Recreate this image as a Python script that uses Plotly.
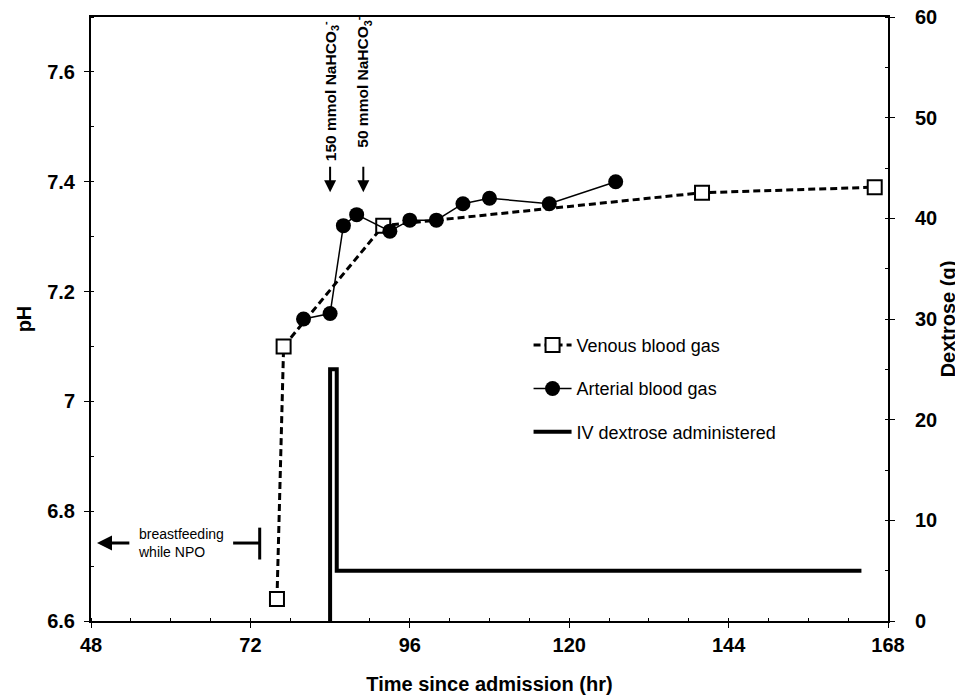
import plotly.graph_objects as go

# ---- data ----
venous_hr = [76, 77, 92, 140, 166]
venous_ph = [6.64, 7.10, 7.32, 7.38, 7.39]

arterial_hr = [80, 84, 86, 88, 93, 96, 100, 104, 108, 117, 127]
arterial_ph = [7.15, 7.16, 7.32, 7.34, 7.31, 7.33, 7.33, 7.36, 7.37, 7.36, 7.40]

dextrose_hr = [84, 84, 85, 85, 164]
dextrose_g = [0, 25, 25, 5, 5]

bicarb_hr = [84, 89]
bicarb_label_ph = [7.434, 7.458]
bicarb_labels = ["150 mmol NaHCO<sub>3</sub><sup>-</sup>", "50 mmol NaHCO<sub>3</sub><sup>-</sup>"]

x_ticks = [48, 72, 96, 120, 144, 168]
ph_ticks = [6.6, 6.8, 7.0, 7.2, 7.4, 7.6]
ph_ticktext = ["6.6", "6.8", "7", "7.2", "7.4", "7.6"]
dex_ticks = [0, 10, 20, 30, 40, 50, 60]

FONT = "Liberation Sans, Arial, sans-serif"

fig = go.Figure()

fig.add_trace(go.Scatter(
    x=venous_hr, y=venous_ph, name="Venous blood gas", mode="lines+markers",
    line=dict(color="black", width=3, dash="7px,4px"),
    marker=dict(symbol="square", size=14, color="white", line=dict(color="black", width=2)),
    legendgroup="v", yaxis="y"))

fig.add_trace(go.Scatter(
    x=arterial_hr, y=arterial_ph, name="Arterial blood gas", mode="lines+markers",
    line=dict(color="black", width=1.5),
    marker=dict(symbol="circle", size=15, color="black"),
    legendgroup="a", yaxis="y"))

fig.add_trace(go.Scatter(
    x=dextrose_hr, y=dextrose_g, name="IV dextrose administered", mode="lines",
    line=dict(color="black", width=4),
    legendgroup="d", yaxis="y2"))

annotations = []
# bicarbonate labels + arrows
for hr, lph, lab in zip(bicarb_hr, bicarb_label_ph, bicarb_labels):
    annotations.append(dict(
        x=hr, y=lph, xref="x", yref="y", text="<b>" + lab + "</b>",
        textangle=-90, showarrow=False, xanchor="center", yanchor="bottom",
        font=dict(family=FONT, size=15.5, color="black")))
    annotations.append(dict(
        x=hr, y=7.381, xref="x", yref="y", ax=hr, ay=7.43, axref="x", ayref="y",
        text="", showarrow=True, arrowhead=2, arrowsize=1.2, arrowwidth=2, arrowcolor="black"))

# breastfeeding annotation
annotations.append(dict(
    x=54.8, y=6.742, xref="x", yref="y", text="breastfeeding<br>while NPO",
    showarrow=False, xanchor="left", yanchor="middle", align="left",
    font=dict(family=FONT, size=14, color="black")))
annotations.append(dict(
    x=48.9, y=6.742, xref="x", yref="y", ax=54.0, ay=6.742, axref="x", ayref="y",
    text="", showarrow=True, arrowhead=2, arrowsize=1.0, arrowwidth=3, arrowcolor="black"))

shapes = [
    dict(type="line", xref="x", yref="y", x0=69.4, x1=73.4, y0=6.742, y1=6.742,
         line=dict(color="black", width=3)),
    dict(type="line", xref="x", yref="y", x0=73.4, x1=73.4, y0=6.712, y1=6.770,
         line=dict(color="black", width=3)),
]

fig.update_layout(
    width=955, height=692,
    margin=dict(l=83, r=75, t=9, b=79),
    paper_bgcolor="white", plot_bgcolor="white",
    font=dict(family=FONT, color="black"),
    showlegend=True,
    legend=dict(x=0.549, y=0.487, xanchor="left", yanchor="top",
                bgcolor="rgba(0,0,0,0)", tracegroupgap=17, itemwidth=38,
                font=dict(family=FONT, size=18, color="black")),
    xaxis=dict(
        range=[48, 168], tickvals=x_ticks, showgrid=False, zeroline=False,
        showline=True, linecolor="black", linewidth=2, mirror=True,
        ticks="outside", ticklen=5, tickcolor="black", tickwidth=1,
        minor=dict(dtick=6, ticks="inside", ticklen=3, tickcolor="black", tickwidth=1),
        tickfont=dict(family=FONT, size=20, color="black", weight="bold"),
        ticklabelstandoff=0, ticklabeloverflow="allow",
        title=dict(text="<b>Time since admission (hr)</b>", standoff=22,
                   font=dict(family=FONT, size=20, color="black")),
        automargin=False),
    yaxis=dict(
        range=[6.6, 7.7], tickvals=ph_ticks, ticktext=ph_ticktext, showgrid=False,
        zeroline=False, showline=True, linecolor="black", linewidth=2,
        ticks="outside", ticklen=5, tickcolor="black", tickwidth=1,
        minor=dict(dtick=0.1, tick0=6.6, ticks="inside", ticklen=3, tickcolor="black", tickwidth=1),
        tickfont=dict(family=FONT, size=20, color="black", weight="bold"),
        ticklabelstandoff=5, ticklabeloverflow="allow",
        title=dict(text="<b>pH</b>", standoff=10,
                   font=dict(family=FONT, size=20, color="black")),
        automargin=False),
    yaxis2=dict(
        range=[0, 60], tickvals=dex_ticks, overlaying="y", side="right",
        showgrid=False, zeroline=False, showline=True, linecolor="black", linewidth=2,
        ticks="outside", ticklen=5, tickcolor="black", tickwidth=1,
        minor=dict(dtick=5, ticks="inside", ticklen=3, tickcolor="black", tickwidth=1),
        tickfont=dict(family=FONT, size=20, color="black", weight="bold"),
        ticklabelstandoff=16, ticklabeloverflow="allow",
        title=dict(text="<b>Dextrose (g)</b>", standoff=3,
                   font=dict(family=FONT, size=20, color="black")),
        automargin=False),
    annotations=annotations,
    shapes=shapes,
)

fig.write_html("out.html")
